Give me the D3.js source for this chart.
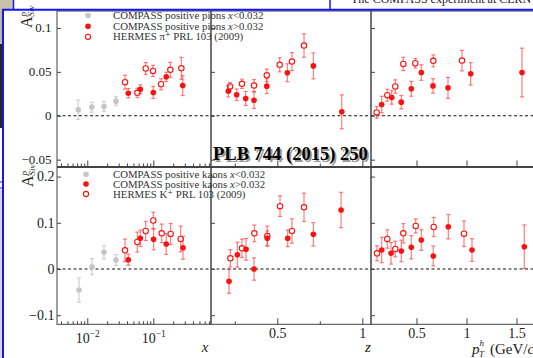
<!DOCTYPE html>
<html>
<head>
<meta charset="utf-8">
<script src="https://cdn.jsdelivr.net/npm/d3@7"></script>
<style>
  body { margin: 0; background: #fff; }
  svg { display: block; font-family: "Liberation Serif", "DejaVu Serif", serif; }
</style>
</head>
<body>
<svg id="chart" width="533" height="358"></svg>
<script>
// Each point: [bin position, asymmetry, stat. error]

// pions, x panel
const pionsLowX = [[0.0073, 0.0068, 0.011], [0.0117, 0.0098, 0.0057], [0.0179, 0.0106, 0.0057], [0.0272, 0.0166, 0.005]];
const pionsHighX = [[0.0418, 0.0257, 0.0053], [0.0636, 0.0302, 0.0051], [0.100, 0.0265, 0.0068], [0.157, 0.0443, 0.0053], [0.279, 0.0344, 0.0114]];
const hermesPionsX = [[0.0373, 0.0382, 0.008], [0.0573, 0.0261, 0.0053], [0.0767, 0.0538, 0.0068], [0.099, 0.0511, 0.0063], [0.131, 0.0359, 0.0063], [0.181, 0.0523, 0.0085], [0.266, 0.054, 0.0125]];
// pions, z panel
const pionsHighZ = [[0.212, 0.028, 0.0066], [0.261, 0.0239, 0.0065], [0.314, 0.0197, 0.008], [0.363, 0.0177, 0.0094], [0.438, 0.0337, 0.0085], [0.559, 0.049, 0.0102], [0.712, 0.0568, 0.0148], [0.879, 0.0045, 0.0193]];
const hermesPionsZ = [[0.222, 0.0333, 0.0045], [0.292, 0.0364, 0.0053], [0.363, 0.0344, 0.0068], [0.438, 0.046, 0.0072], [0.514, 0.058, 0.008], [0.586, 0.0617, 0.0102], [0.657, 0.0799, 0.0133]];
// pions, pT panel
const pionsHighPt = [[0.152, 0.0128, 0.0094], [0.252, 0.0208, 0.0076], [0.348, 0.0155, 0.0076], [0.448, 0.0307, 0.0085], [0.548, 0.0492, 0.0089], [0.665, 0.034, 0.0082], [0.815, 0.0318, 0.0119], [1.042, 0.0477, 0.0128], [1.555, 0.0492, 0.0278]];
const hermesPionsPt = [[0.102, 0.0038, 0.0066], [0.208, 0.0234, 0.0068], [0.288, 0.0333, 0.0076], [0.368, 0.059, 0.0076], [0.488, 0.0598, 0.0053], [0.668, 0.0625, 0.0068], [0.955, 0.0628, 0.0117]];

// kaons, x panel
const kaonsLowX = [[0.0075, -0.0455, 0.0264], [0.0118, 0.005, 0.0173], [0.0179, 0.036, 0.0141], [0.0272, 0.0195, 0.0119]];
const kaonsHighX = [[0.0418, 0.0201, 0.0119], [0.0636, 0.0664, 0.0177], [0.101, 0.0642, 0.0227], [0.157, 0.054, 0.0223], [0.282, 0.046, 0.0249]];
const hermesKaonsX = [[0.0373, 0.0404, 0.0245], [0.0573, 0.0584, 0.0216], [0.0767, 0.0823, 0.0206], [0.1, 0.105, 0.018], [0.134, 0.0772, 0.0201], [0.183, 0.0758, 0.0227], [0.26, 0.065, 0.0277]];
// kaons, z panel
const kaonsHighZ = [[0.216, -0.0267, 0.026], [0.265, 0.031, 0.027], [0.316, 0.0426, 0.0234], [0.363, 0, 0.0242], [0.441, 0.0664, 0.0162], [0.561, 0.0664, 0.018], [0.712, 0.0751, 0.0253], [0.875, 0.1277, 0.0383]];
const hermesKaonsZ = [[0.224, 0.0231, 0.0188], [0.292, 0.0448, 0.0199], [0.365, 0.0772, 0.018], [0.441, 0.0714, 0.0216], [0.516, 0.136, 0.0223], [0.586, 0.0823, 0.0264], [0.657, 0.1335, 0.0307]];
// kaons, pT panel
const kaonsHighPt = [[0.152, 0.0411, 0.0275], [0.245, 0.034, 0.0234], [0.348, 0.039, 0.0234], [0.448, 0.047, 0.0253], [0.548, 0.0628, 0.0223], [0.668, 0.0281, 0.0216], [0.818, 0.0916, 0.0264], [1.055, 0.0411, 0.0245], [1.578, 0.0483, 0.0472]];
const hermesKaonsPt = [[0.105, 0.034, 0.0162], [0.208, 0.065, 0.0199], [0.288, 0.0433, 0.0169], [0.368, 0.0772, 0.021], [0.492, 0.0931, 0.0152], [0.672, 0.0909, 0.0206], [0.975, 0.0764, 0.0277]];

// ticks and labels
const xMajorTicks = [0.01, 0.1];
const xMajorLabels = ["\u22122", "\u22121"];
const xMinorTicks = [0.004, 0.005, 0.006, 0.007, 0.008, 0.009, 0.02, 0.03, 0.04, 0.05, 0.06, 0.07, 0.08, 0.09, 0.2, 0.3, 0.4, 0.5, 0.6, 0.7];
const zMajorTicks = [0.5, 1];
const zMinorTicks = [0.25, 0.75];
const ptMajorTicks = [0.5, 1, 1.5];
const yTicksTop = [-0.05, 0, 0.05, 0.1];
const yLabelsTop = ["\u22120.05", "0", "0.05", "0.1"];
const yTicksBottom = [-0.1, 0, 0.1, 0.2];
const yLabelsBottom = ["\u22120.1", "0", "0.1", "0.2"];

const legendPions = ["COMPASS positive pions ", "COMPASS positive pions ", "HERMES  \u03c0\u207a PRL 103 (2009)"];
const legendKaons = ["COMPASS positive kaons  ", "COMPASS positive kaons  ", "HERMES  K\u207a PRL 103 (2009)"];
const legendCuts = ["<0.032", ">0.032", null];

const svg = d3.select("#chart");

// slide decoration behind the plot
svg.append("rect").attr("x", 0).attr("y", 0).attr("width", 13).attr("height", 9).attr("fill", "#c9c0a8");
svg.append("rect").attr("x", 0).attr("y", 9).attr("width", 3).attr("height", 35).attr("fill", "#bdb6a3");
svg.append("rect").attr("x", 0).attr("y", 44).attr("width", 3).attr("height", 84).attr("fill", "#2b251b");
svg.append("rect").attr("x", 0).attr("y", 190).attr("width", 3).attr("height", 168).attr("fill", "#d6d6d6");
svg.append("text")
  .attr("x", 351).attr("y", 3)
  .attr("font-size", 12).attr("fill", "#222")
  .text("The COMPASS experiment at CERN");

// panel geometry
const cols = [57, 211, 371, 540];
const topBand = [11, 166.5];
const bottomBand = [167.5, 324.3];

const xScale = d3.scaleLog().domain([0.00348, 0.748]).range([cols[0], cols[1]]);
const zScale = d3.scaleLinear().domain([0.11, 1.051]).range([cols[1], cols[2]]);
const ptScale = d3.scaleLinear().domain([0.045, 1.735]).range([cols[2], cols[3]]);
const yTop = d3.scaleLinear().domain([-0.0578, 0.1193]).range([topBand[1], topBand[0]]);
const yBottom = d3.scaleLinear().domain([-0.1197, 0.2197]).range([bottomBand[1], bottomBand[0]]);

const frameColor = "#444";
const red = "#ff1010";
const redBar = "rgba(255,40,40,0.6)";
const grey = "#c6c6c6";

function drawFrame(xs, ys, yTicks) {
  const [x0, x1] = xs.range();
  const [yb, yt] = ys.range();

  // dashed zero line
  svg.append("line")
    .attr("x1", x0).attr("x2", x1)
    .attr("y1", ys(0)).attr("y2", ys(0))
    .attr("stroke", "#111").attr("stroke-width", 1)
    .attr("stroke-dasharray", "3,2.5");

  svg.append("rect")
    .attr("x", x0).attr("y", yt)
    .attr("width", x1 - x0).attr("height", yb - yt)
    .attr("fill", "none")
    .attr("stroke", frameColor).attr("stroke-width", 1);

  const yAxis = svg.append("g")
    .attr("transform", `translate(${x0},0)`)
    .call(d3.axisLeft(ys).tickValues(yTicks).tickSize(-4).tickFormat(""));
  yAxis.select(".domain").remove();
  yAxis.selectAll(".tick text").remove();
  yAxis.selectAll(".tick line").attr("stroke", frameColor);
}

function yTickLabels(ys, ticks, labels, xRight, size) {
  svg.append("g").selectAll("text").data(ticks).join("text")
    .attr("x", xRight)
    .attr("y", d => ys(d))
    .attr("dy", "0.34em")
    .attr("text-anchor", "end")
    .attr("font-size", size)
    .attr("fill", "#222")
    .text((d, i) => labels[i]);
}

function drawXTicks(xs, yBase, major, minor, withLabels, format) {
  const gMinor = svg.append("g")
    .attr("transform", `translate(0,${yBase})`)
    .call(d3.axisBottom(xs).tickValues(minor).tickSize(-3).tickFormat(""));
  gMinor.select(".domain").remove();
  gMinor.selectAll(".tick text").remove();
  gMinor.selectAll(".tick line").attr("stroke", frameColor);

  const gMajor = svg.append("g")
    .attr("transform", `translate(0,${yBase})`)
    .call(d3.axisBottom(xs).tickValues(major).tickSize(-6).tickPadding(4)
      .tickFormat(withLabels ? format : ""));
  gMajor.select(".domain").remove();
  gMajor.selectAll(".tick line").attr("stroke", frameColor);
  if (withLabels) {
    gMajor.selectAll(".tick text")
      .attr("font-family", "Liberation Serif, serif")
      .attr("font-size", 14)
      .attr("fill", "#222");
  } else {
    gMajor.selectAll(".tick text").remove();
  }
  return gMajor;
}

function drawSeries(points, xs, ys, style) {
  const g = svg.append("g");
  const barColor = style === "grey" ? "#cfcfcf" : redBar;
  const pts = g.selectAll("g.pt").data(points).join("g").attr("class", "pt");

  pts.append("line")
    .attr("x1", d => xs(d[0])).attr("x2", d => xs(d[0]))
    .attr("y1", d => ys(d[1] - d[2])).attr("y2", d => ys(d[1] + d[2]))
    .attr("stroke", barColor).attr("stroke-width", 1.2);
  [-1, 1].forEach(s => {
    pts.append("line")
      .attr("x1", d => xs(d[0]) - 2).attr("x2", d => xs(d[0]) + 2)
      .attr("y1", d => ys(d[1] + s * d[2])).attr("y2", d => ys(d[1] + s * d[2]))
      .attr("stroke", barColor).attr("stroke-width", 1.2);
  });

  if (style === "open") {
    pts.append("circle")
      .attr("cx", d => xs(d[0])).attr("cy", d => ys(d[1]))
      .attr("r", 2.7)
      .attr("fill", "#fff").attr("stroke", red).attr("stroke-width", 1.1);
  } else {
    pts.append("circle")
      .attr("cx", d => xs(d[0])).attr("cy", d => ys(d[1]))
      .attr("r", 2.8)
      .attr("fill", style === "grey" ? grey : red);
  }
}

function drawLegend(x, rows, texts, textX) {
  const styles = ["grey", "filled", "open"];
  rows.forEach((ry, i) => {
    const c = svg.append("circle").attr("cx", x).attr("cy", ry).attr("r", 2.8);
    if (styles[i] === "open") c.attr("fill", "#fff").attr("stroke", red).attr("stroke-width", 1.1).attr("r", 2.6);
    else c.attr("fill", styles[i] === "grey" ? grey : red);

    const t = svg.append("text")
      .attr("x", textX).attr("y", ry + 3.5)
      .attr("font-size", 10.8).attr("fill", "#333");
    t.append("tspan").text(texts[i]);
    if (legendCuts[i]) {
      t.append("tspan").attr("font-style", "italic").text("x");
      t.append("tspan").text(legendCuts[i]);
    }
  });
}

function yTitle(x, y) {
  const t = svg.append("text")
    .attr("transform", `translate(${x},${y}) rotate(-90)`)
    .attr("fill", "#222");
  t.append("tspan").attr("font-size", 16).text("A");
  t.append("tspan").attr("font-size", 9).attr("font-style", "italic").attr("dy", -6).text("p");
  t.append("tspan").attr("font-size", 9).attr("font-style", "italic").attr("dx", -4.5).attr("dy", 8).text("Siv");
}

// ---- top row: pions ----
drawFrame(xScale, yTop, yTicksTop);
drawFrame(zScale, yTop, yTicksTop);
drawFrame(ptScale, yTop, yTicksTop);
yTickLabels(yTop, yTicksTop, yLabelsTop, 51.5, 13);
drawXTicks(xScale, topBand[1], xMajorTicks, xMinorTicks, false);
drawXTicks(zScale, topBand[1], zMajorTicks, zMinorTicks, false);
drawXTicks(ptScale, topBand[1], ptMajorTicks, [], false);

drawSeries(pionsLowX, xScale, yTop, "grey");
drawSeries(hermesPionsX, xScale, yTop, "open");
drawSeries(pionsHighX, xScale, yTop, "filled");
drawSeries(hermesPionsZ, zScale, yTop, "open");
drawSeries(pionsHighZ, zScale, yTop, "filled");
drawSeries(hermesPionsPt, ptScale, yTop, "open");
drawSeries(pionsHighPt, ptScale, yTop, "filled");

drawLegend(88, [15.5, 26.2, 36.8], legendPions, 113);
yTitle(32, 28);

// ---- bottom row: kaons ----
drawFrame(xScale, yBottom, yTicksBottom);
drawFrame(zScale, yBottom, yTicksBottom);
drawFrame(ptScale, yBottom, yTicksBottom);
yTickLabels(yBottom, yTicksBottom, yLabelsBottom, 54.5, 14);

const gLogLabels = drawXTicks(xScale, bottomBand[1], xMajorTicks, xMinorTicks, true, () => "");
gLogLabels.selectAll(".tick text").each(function(d, i) {
  const t = d3.select(this).attr("dy", null).attr("y", 18.5);
  t.append("tspan").text("10");
  t.append("tspan").attr("font-size", 9.5).attr("dy", -6).text(xMajorLabels[i]);
});
drawXTicks(zScale, bottomBand[1], zMajorTicks, zMinorTicks, true, d3.format("~g"));
drawXTicks(ptScale, bottomBand[1], ptMajorTicks, [], true, d3.format("~g"));

drawSeries(kaonsLowX, xScale, yBottom, "grey");
drawSeries(hermesKaonsX, xScale, yBottom, "open");
drawSeries(kaonsHighX, xScale, yBottom, "filled");
drawSeries(hermesKaonsZ, zScale, yBottom, "open");
drawSeries(kaonsHighZ, zScale, yBottom, "filled");
drawSeries(hermesKaonsPt, ptScale, yBottom, "open");
drawSeries(kaonsHighPt, ptScale, yBottom, "filled");

drawLegend(86, [174.3, 184, 194], legendKaons, 113);
yTitle(33, 187);

// axis titles
svg.append("text").attr("x", 205).attr("y", 352).attr("text-anchor", "middle")
  .attr("font-size", 15).attr("font-style", "italic").attr("fill", "#222").text("x");
svg.append("text").attr("x", 368).attr("y", 352).attr("text-anchor", "middle")
  .attr("font-size", 15).attr("font-style", "italic").attr("fill", "#222").text("z");
const ptTitle = svg.append("text").attr("x", 472).attr("y", 354)
  .attr("font-size", 15).attr("fill", "#222");
ptTitle.append("tspan").attr("font-style", "italic").text("p");
ptTitle.append("tspan").attr("font-size", 9).attr("font-style", "italic").attr("dy", -8).text("h");
ptTitle.append("tspan").attr("font-size", 9).attr("font-style", "italic").attr("dx", -5).attr("dy", 11).text("T");
ptTitle.append("tspan").attr("dx", 6).attr("dy", -3).text("(GeV/");
ptTitle.append("tspan").attr("font-style", "italic").text("c");

// reference tag with shadow
[["#9a9a9a", 1.8], ["#000", 0]].forEach(([col, off]) => {
  svg.append("text")
    .attr("x", 213 + off).attr("y", 160 + off)
    .attr("font-size", 18.5).attr("font-weight", "bold").attr("fill", col)
    .text("PLB 744 (2015) 250");
});

// blue slide frame
const blue = "#1414ff";
svg.append("line").attr("x1", 2).attr("x2", 533).attr("y1", 9.8).attr("y2", 9.8).attr("stroke", blue).attr("stroke-width", 2);
svg.append("line").attr("x1", 3).attr("x2", 3).attr("y1", 9).attr("y2", 358).attr("stroke", blue).attr("stroke-width", 2);
svg.append("line").attr("x1", 13.5).attr("x2", 13.5).attr("y1", 0).attr("y2", 9).attr("stroke", blue).attr("stroke-width", 1.5);
svg.append("line").attr("x1", 330).attr("x2", 330).attr("y1", 0).attr("y2", 9).attr("stroke", blue).attr("stroke-width", 1.5);
svg.append("line").attr("x1", 0).attr("x2", 3).attr("y1", 182).attr("y2", 182).attr("stroke", blue).attr("stroke-width", 1);
svg.append("line").attr("x1", 0).attr("x2", 3).attr("y1", 188).attr("y2", 188).attr("stroke", blue).attr("stroke-width", 1);
</script>
</body>
</html>
